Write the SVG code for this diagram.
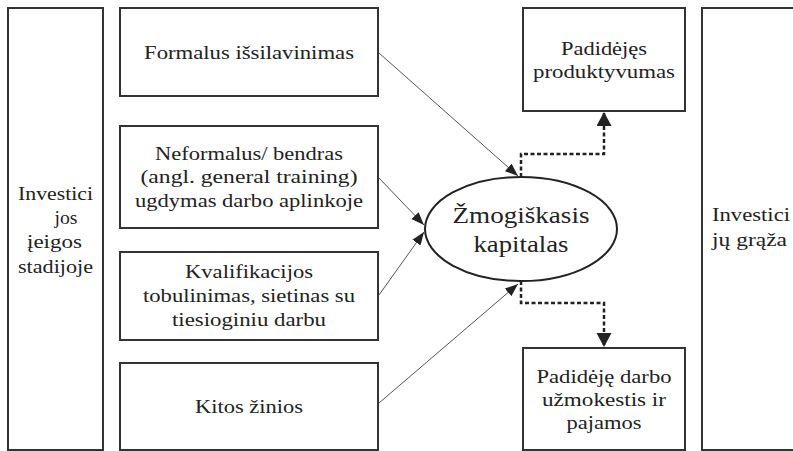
<svg xmlns="http://www.w3.org/2000/svg" width="793" height="451" viewBox="0 0 793 451" font-family="Liberation Serif, serif">
<style>
text{font-family:'Liberation Serif',serif;fill:#222}
.t{font-size:19px;text-anchor:middle}
.tl{font-size:19px;text-anchor:start}
.big{font-size:24px;text-anchor:middle}
.box{fill:#fff;stroke:#333;stroke-width:2}
.thin{fill:none;stroke:#555;stroke-width:1}
.dash{fill:none;stroke:#222;stroke-width:2.5;stroke-dasharray:4 2.5}
</style>
<defs>
<marker id="ah" markerUnits="userSpaceOnUse" markerWidth="14" markerHeight="12" refX="13" refY="5" orient="auto">
<path d="M0,0 L13,5 L0,10 Z" fill="#222"/>
</marker>
<marker id="dh" markerUnits="userSpaceOnUse" markerWidth="16" markerHeight="16" refX="14" refY="7.5" orient="auto">
<path d="M0,0 L14,7.5 L0,15 Z" fill="#222"/>
</marker>
</defs>
<rect width="793" height="451" fill="#fff"/>
<g id="left-stage">
<rect class="box" x="8" y="8" width="95" height="442"/>
<text class="t" x="55.5" y="200" textLength="75" lengthAdjust="spacingAndGlyphs">Investici</text>
<text class="t" x="66" y="224" textLength="23" lengthAdjust="spacingAndGlyphs">jos</text>
<text class="t" x="54.5" y="248" textLength="55" lengthAdjust="spacingAndGlyphs">įeigos</text>
<text class="t" x="55.5" y="273" textLength="75" lengthAdjust="spacingAndGlyphs">stadijoje</text>
</g>
<g id="formalus">
<rect class="box" x="120" y="8" width="258" height="88"/>
<text class="t" x="249" y="59" textLength="210" lengthAdjust="spacingAndGlyphs">Formalus išsilavinimas</text>
</g>
<g id="neformalus">
<rect class="box" x="120" y="126" width="258" height="102"/>
<text class="t" x="249" y="160" textLength="188" lengthAdjust="spacingAndGlyphs">Neformalus/ bendras</text>
<text class="t" x="249" y="183" textLength="217" lengthAdjust="spacingAndGlyphs">(angl. general training)</text>
<text class="t" x="249" y="207" textLength="228" lengthAdjust="spacingAndGlyphs">ugdymas darbo aplinkoje</text>
</g>
<g id="kvalifikacijos">
<rect class="box" x="120" y="252" width="258" height="88"/>
<text class="t" x="249" y="278" textLength="128" lengthAdjust="spacingAndGlyphs">Kvalifikacijos</text>
<text class="t" x="249" y="302" textLength="212" lengthAdjust="spacingAndGlyphs">tobulinimas, sietinas su</text>
<text class="t" x="249" y="326" textLength="154" lengthAdjust="spacingAndGlyphs">tiesioginiu darbu</text>
</g>
<g id="kitos">
<rect class="box" x="120" y="363" width="258" height="87"/>
<text class="t" x="249" y="413" textLength="108" lengthAdjust="spacingAndGlyphs">Kitos žinios</text>
</g>
<g id="kapitalas">
<ellipse cx="521" cy="229" rx="96" ry="52" fill="#fff" stroke="#222" stroke-width="2"/>
<text class="big" x="521" y="223" textLength="137" lengthAdjust="spacingAndGlyphs">Žmogiškasis</text>
<text class="big" x="521" y="252" textLength="95" lengthAdjust="spacingAndGlyphs">kapitalas</text>
</g>
<g id="produktyvumas">
<rect class="box" x="523" y="8" width="162" height="103"/>
<text class="t" x="604" y="55" textLength="86" lengthAdjust="spacingAndGlyphs">Padidėjęs</text>
<text class="t" x="604" y="78" textLength="142" lengthAdjust="spacingAndGlyphs">produktyvumas</text>
</g>
<g id="uzmokestis">
<rect class="box" x="523" y="348" width="162" height="102"/>
<text class="t" x="604" y="383" textLength="135" lengthAdjust="spacingAndGlyphs">Padidėję darbo</text>
<text class="t" x="604" y="406" textLength="124" lengthAdjust="spacingAndGlyphs">užmokestis ir</text>
<text class="t" x="604" y="429" textLength="75" lengthAdjust="spacingAndGlyphs">pajamos</text>
</g>
<g id="right-return">
<rect class="box" x="702" y="8" width="100" height="442"/>
<text class="tl" x="712" y="221" textLength="78" lengthAdjust="spacingAndGlyphs">Investici</text>
<text class="tl" x="712" y="246" textLength="75" lengthAdjust="spacingAndGlyphs">jų grąža</text>
</g>
<g id="connectors">
<line class="thin" x1="379" y1="53" x2="518" y2="176" marker-end="url(#ah)"/>
<line class="thin" x1="379" y1="178" x2="424" y2="225" marker-end="url(#ah)"/>
<line class="thin" x1="379" y1="295" x2="424" y2="232" marker-end="url(#ah)"/>
<line class="thin" x1="379" y1="403" x2="518" y2="284" marker-end="url(#ah)"/>
<path class="dash" d="M521,177 V154 H604 V112" marker-end="url(#dh)"/>
<path class="dash" d="M521,281 V303 H604 V347" marker-end="url(#dh)"/>
</g>
</svg>
